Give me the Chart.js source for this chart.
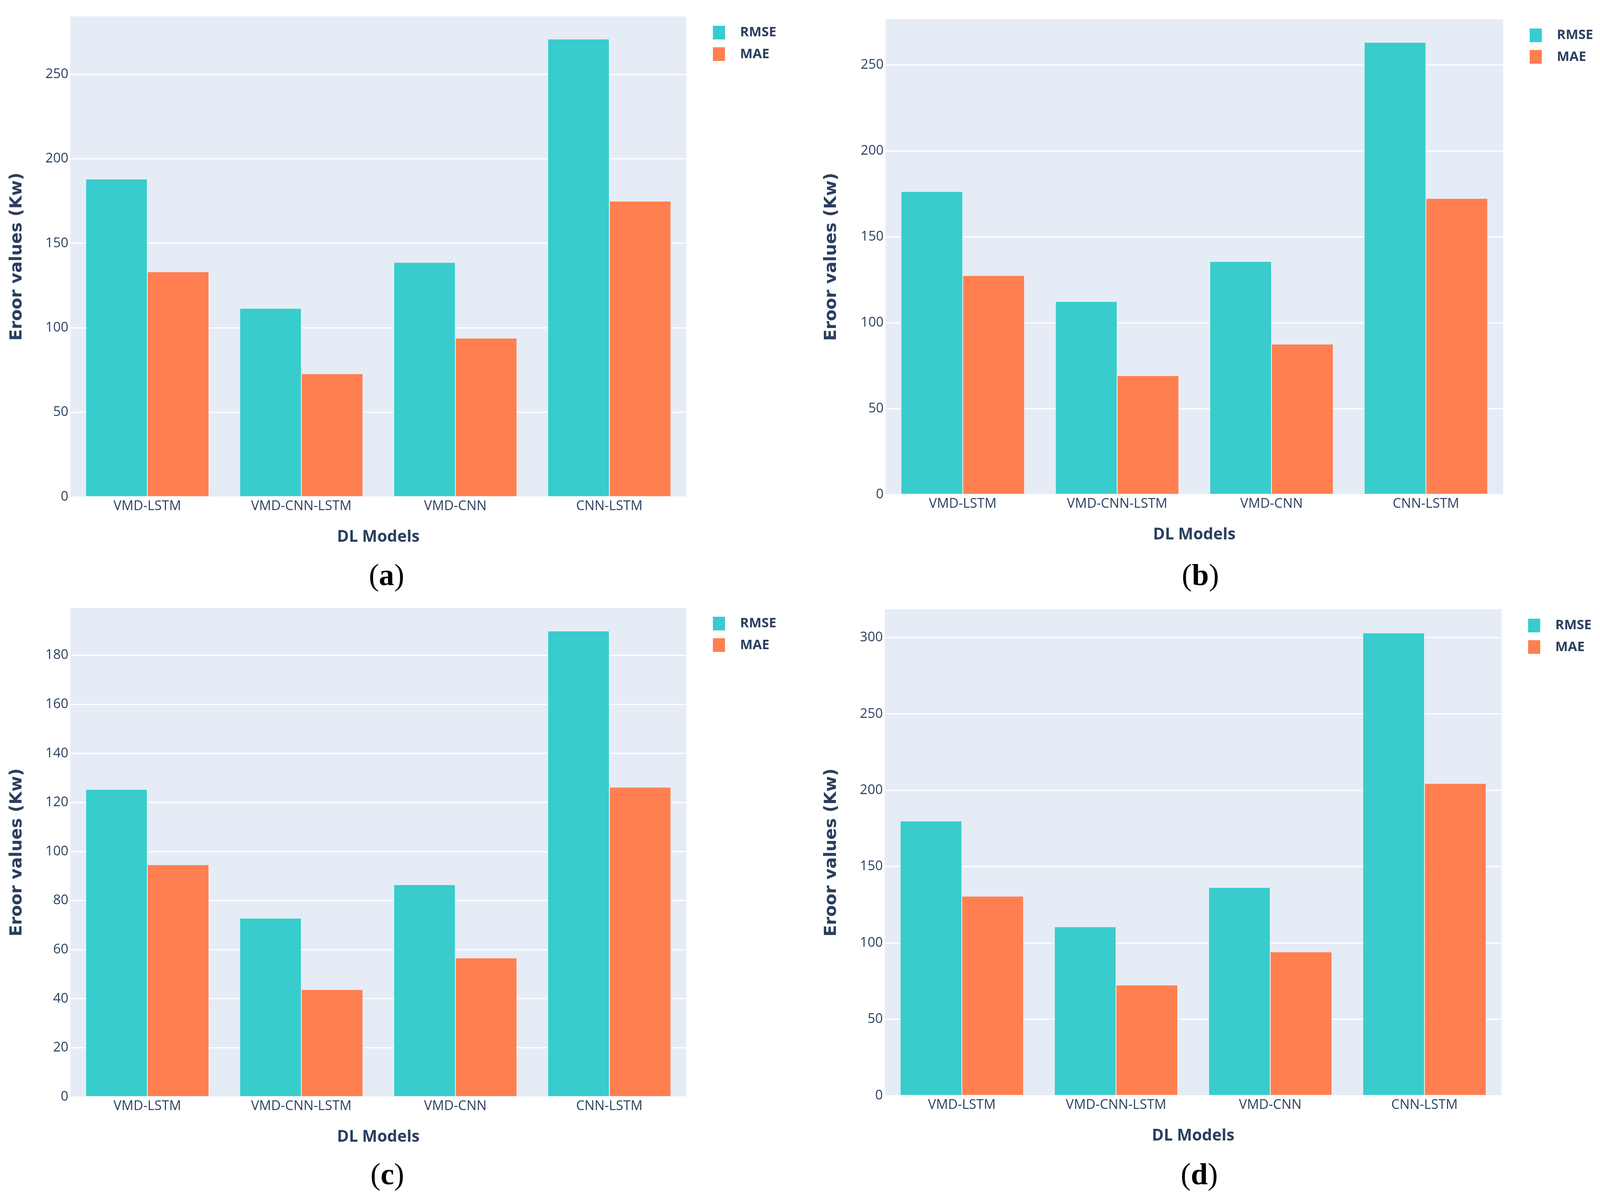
<!DOCTYPE html>
<html>
<head>
<meta charset="utf-8">
<script src="https://cdn.jsdelivr.net/npm/chart.js@4.4.1/dist/chart.umd.min.js"></script>
<style>
html, body { margin: 0; padding: 0; background: #ffffff; overflow: hidden; }
canvas { position: absolute; display: block; }
.cap { position: absolute; font-family: 'Liberation Serif', 'Times New Roman', serif; font-size: 78px; line-height: 78px; height: 78px; color: #000; white-space: nowrap; transform: translateX(-50%); }
</style>
</head>
<body>
<canvas id="chartA"></canvas>
<canvas id="chartB"></canvas>
<canvas id="chartC"></canvas>
<canvas id="chartD"></canvas>
<div class="cap" id="capA">(<b>a</b>)</div>
<div class="cap" id="capB">(<b>b</b>)</div>
<div class="cap" id="capC">(<b>c</b>)</div>
<div class="cap" id="capD">(<b>d</b>)</div>
<script>
// ---------------- data ----------------
const categories = ['VMD-LSTM', 'VMD-CNN-LSTM', 'VMD-CNN', 'CNN-LSTM'];
const seriesNames = ['RMSE', 'MAE'];
const xTitle = 'DL Models';
const yTitle = 'Eroor values (Kw)';

const rmseA = [187.8, 111.3, 138.5, 270.6];
const maeA  = [133.0, 72.6, 93.7, 174.7];
const rmseB = [176.1, 112.1, 135.4, 262.9];
const maeB  = [127.2, 69.0, 87.3, 172.1];
const rmseC = [125.2, 72.7, 86.3, 189.8];
const maeC  = [94.5, 43.6, 56.5, 126.1];
const rmseD = [179.6, 110.4, 136.1, 302.8];
const maeD  = [130.4, 72.2, 93.9, 204.3];

const yStepA = 50, yStepB = 50, yStepC = 20, yStepD = 50;
const yMaxA = 284.2, yMaxB = 276.6, yMaxC = 199.3, yMaxD = 318.5;

// ---------------- page geometry (designed for 4288 wide, fitted to the viewport) ----------------
const REF_W = 4288, REF_H = 3062;
const KX = Math.min(1, (window.innerWidth || REF_W) / REF_W);
const FK = (1 + KX) / 2;
document.body.style.width = Math.round(REF_W * KX) + 'px';
document.body.style.height = REF_H + 'px';

const caps = [['capA', 1036, 1433], ['capB', 3217, 1433], ['capC', 1038, 2967], ['capD', 3214, 2967]];
caps.forEach(([id, cx, ty]) => {
  const el = document.getElementById(id);
  el.style.left = (cx * KX) + 'px';
  el.style.top = ty + 'px';
});

// ---------------- styles ----------------
const COLORS = ['#38CCCC', '#FF7F50'];
const TEXT = '#2a3f5f';
const PLOT_BG = '#E5ECF6';
const FONT = "'Open Sans', 'Noto Sans', sans-serif";

const TICK_SIZE = 35 * FK;
const LEG_SIZE = 35 * FK;
const XT_SIZE = 42 * FK;
const YT_SIZE = 43;
const YT_PAD = 18;

const SW_W = Math.round(32 * KX), SW_H = 35;
const LEG_PAD = 21;
const PSW = 2 * (73 * KX - SW_W / 2 - LEG_SIZE / 2);          // point-style slot width
const LEG_SHIFT = 71 * KX - LEG_PAD - PSW / 2 + SW_W / 2;      // swatch starts 71 ref-px right of plot

function swatch(color) {
  const c = document.createElement('canvas');
  c.width = SW_W; c.height = SW_H;
  const g = c.getContext('2d');
  g.fillStyle = color;
  g.fillRect(0, 0, SW_W, SW_H);
  return c;
}
const swatches = COLORS.map(swatch);

const bgPlugin = {
  id: 'plotBg',
  beforeDraw(chart) {
    const { ctx, chartArea: { left, top, width, height } } = chart;
    ctx.save();
    ctx.fillStyle = PLOT_BG;
    ctx.fillRect(left, top, width, height);
    ctx.restore();
  }
};

const legendShift = {
  id: 'legendShift',
  afterLayout(chart) {
    const lg = chart.legend;
    if (!lg) return;
    lg.left += LEG_SHIFT;
    lg.right = chart.width;
    lg.width = lg.right - lg.left;
    lg.top += 3.5; lg.bottom += 3.5;
  }
};

function makeChart(p) {
  const cx = Math.round(p.x0 * KX);
  const w = Math.round(2144 * KX);
  const h = 1430;
  const plotL = Math.round(p.l * KX) - cx;
  const plotR = Math.round(p.r * KX) - cx;
  const ytCenter = p.ytx * KX - cx;
  const padLeft = Math.max(0, ytCenter - (YT_SIZE * 1.2) / 2 - YT_PAD);
  const LEGEND_W = 100;

  const cv = document.getElementById(p.id);
  cv.width = w; cv.height = h;
  cv.style.left = cx + 'px'; cv.style.top = p.y0 + 'px';
  cv.style.width = w + 'px'; cv.style.height = h + 'px';

  const barDs = (i, data) => ({
    label: seriesNames[i], data, backgroundColor: COLORS[i],
    borderColor: 'rgba(255,255,255,0.9)', borderWidth: { left: 1, right: 1, top: 0, bottom: 0 }, borderSkipped: false,
    categoryPercentage: 0.8, barPercentage: 1.0
  });

  return new Chart(cv, {
    type: 'bar',
    data: { labels: categories, datasets: [barDs(0, p.rmse), barDs(1, p.mae)] },
    options: {
      responsive: false,
      animation: false,
      devicePixelRatio: 1,
      events: [],
      layout: { padding: { left: padLeft, top: p.t, right: w - plotR - LEGEND_W, bottom: 0 } },
      plugins: {
        tooltip: { enabled: false },
        legend: {
          position: 'right',
          align: 'start',
          maxWidth: LEGEND_W,
          labels: {
            usePointStyle: true,
            pointStyleWidth: PSW,
            boxHeight: SW_H,
            padding: LEG_PAD,
            color: TEXT,
            font: { family: FONT, size: LEG_SIZE, weight: 'bold' },
            generateLabels(chart) {
              const items = Chart.defaults.plugins.legend.labels.generateLabels(chart);
              items.forEach((it, i) => { it.pointStyle = swatches[i]; });
              return items;
            }
          }
        }
      },
      scales: {
        x: {
          grid: { display: false, drawTicks: false },
          border: { display: false },
          ticks: { color: TEXT, padding: 4, maxRotation: 0, autoSkip: false,
                   font: { family: FONT, size: TICK_SIZE } },
          title: { display: true, text: xTitle, color: TEXT,
                   font: { family: FONT, size: XT_SIZE, weight: 'bold' },
                   padding: { top: 0, bottom: h - p.titleY - XT_SIZE * 0.6 } },
          afterFit(scale) { scale.height = h - p.b; }
        },
        y: {
          min: 0,
          max: p.yMax,
          grid: { color: '#ffffff', lineWidth: 3, drawTicks: false },
          border: { display: false },
          ticks: { stepSize: p.step, includeBounds: false, color: TEXT, padding: 5,
                   font: { family: FONT, size: TICK_SIZE } },
          title: { display: true, text: yTitle, color: TEXT,
                   font: { family: "'DejaVu Sans', Verdana, sans-serif", size: YT_SIZE, weight: 'bold' },
                   padding: { top: YT_PAD, bottom: 0 } },
          afterFit(scale) { scale.width = plotL - padLeft; }
        }
      }
    },
    plugins: [bgPlugin, legendShift]
  });
}

makeChart({ id: 'chartA', x0: 0, y0: 0, l: 188, r: 1839, t: 42, b: 1272, ytx: 46, titleY: 1375,
  rmse: rmseA, mae: maeA, step: yStepA, yMax: yMaxA });
makeChart({ id: 'chartB', x0: 2144, y0: 0, l: 2373, r: 4028, t: 49, b: 1266, ytx: 2229, titleY: 1369,
  rmse: rmseB, mae: maeB, step: yStepB, yMax: yMaxB });
makeChart({ id: 'chartC', x0: 0, y0: 1531, l: 188, r: 1839, t: 24, b: 1277, ytx: 46, titleY: 1380,
  rmse: rmseC, mae: maeC, step: yStepC, yMax: yMaxC });
makeChart({ id: 'chartD', x0: 2144, y0: 1531, l: 2371, r: 4024, t: 29, b: 1274, ytx: 2229, titleY: 1377,
  rmse: rmseD, mae: maeD, step: yStepD, yMax: yMaxD });
</script>
</body>
</html>
